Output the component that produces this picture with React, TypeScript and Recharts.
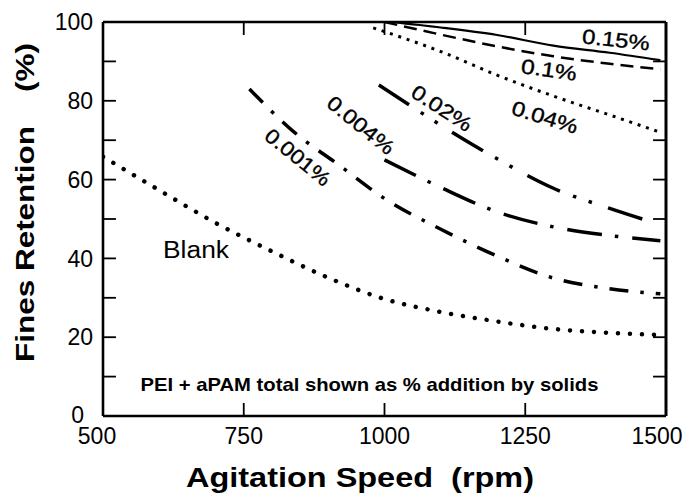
import React from 'react';
import { LineChart, Line, XAxis, YAxis } from 'recharts';

// ---------- data ----------
const rpmTicks = [500, 750, 1000, 1250, 1500];
const rpmInnerTicks = [750, 1000, 1250];
const retentionTicks = [0, 20, 40, 60, 80, 100];
const retentionMarks = [10, 20, 30, 40, 50, 60, 70, 80, 90];

const blankRpm = [500, 600, 700, 800, 900, 1000, 1100, 1200, 1300, 1400, 1480];
const blankVals = [65.8, 57.3, 49, 41.8, 35.1, 29.7, 26.4, 24, 22.1, 21.1, 20.6];

const p001Rpm = [760, 840, 920, 1000, 1100, 1200, 1300, 1400, 1490];
const p001Vals = [83, 72, 63.6, 55.2, 47.4, 40.6, 35, 32.3, 31];

const p004Rpm = [1000, 1100, 1200, 1300, 1400, 1490];
const p004Vals = [65, 58, 51.8, 48, 45.8, 44.5];

const p02Rpm = [990, 1050, 1100, 1200, 1300, 1400, 1480];
const p02Vals = [84, 78.4, 73.8, 65.3, 57.8, 52.7, 49];

const p04Rpm = [980, 1100, 1200, 1300, 1400, 1490];
const p04Vals = [98.5, 92.5, 86.5, 81.2, 76.4, 72];

const p1Rpm = [1000, 1100, 1200, 1300, 1400, 1490];
const p1Vals = [100, 96.8, 93.8, 91.3, 89.4, 88];

const p15Rpm = [1010, 1100, 1200, 1300, 1400, 1490];
const p15Vals = [100, 98.6, 96.7, 94, 92.2, 90.3];

const zip = (xs: number[], ys: number[]) => xs.map((x, i) => ({ x, y: ys[i] }));

// ---------- layout ----------
const W = 689;
const H = 495;
const X_MIN = 500;
const X_MAX = 1500;
const Y_MIN = 0;
const Y_MAX = 100;
// inward tick length (about 13 px) expressed in axis units
const TICK_RPM = 23;
const TICK_PCT = 3.3;
const FONT = 'Liberation Sans, Arial, Helvetica, sans-serif';

const tickSegments = [
  ...retentionMarks.map((v) => [{ x: X_MIN, y: v }, { x: X_MIN + TICK_RPM, y: v }]),
  ...retentionMarks.map((v) => [{ x: X_MAX - TICK_RPM, y: v }, { x: X_MAX, y: v }]),
  ...rpmInnerTicks.map((v) => [{ x: v, y: Y_MIN }, { x: v, y: Y_MIN + TICK_PCT }]),
  ...rpmInnerTicks.map((v) => [{ x: v, y: Y_MAX - TICK_PCT }, { x: v, y: Y_MAX }]),
];

const LeftTick = (props: any) => {
  const { y, payload } = props;
  const v = payload.value;
  const isZero = v === 0;
  return (
    <text
      x={isZero ? 84 : 93}
      y={isZero ? y + 6.5 : y + 8.2}
      textAnchor="end"
      fontSize={23}
      fontFamily={FONT}
      fill="#000"
    >
      {v}
    </text>
  );
};

const BottomTick = (props: any) => {
  const { x, payload } = props;
  const v = payload.value;
  const dx = v === 500 ? -6 : v === 1500 ? -9 : 0;
  return (
    <text
      x={x + dx}
      y={443.5}
      textAnchor="middle"
      fontSize={23}
      fontFamily={FONT}
      fill="#000"
    >
      {v}
    </text>
  );
};

const RotLabel = ({ text, cx, cy, angle, len, fs = 20.5 }: any) => (
  <text
    x={cx}
    y={cy}
    dy={fs * 0.36}
    textAnchor="middle"
    fontSize={fs}
    fontFamily={FONT}
    fill="#000"
    stroke="#000"
    strokeWidth={0.35}
    textLength={len}
    lengthAdjust="spacingAndGlyphs"
    transform={`rotate(${angle} ${cx} ${cy})`}
  >
    {text}
  </text>
);

export default function App() {
  const lineCommon = {
    xAxisId: 'bottom',
    yAxisId: 'left',
    dataKey: 'y',
    type: 'monotone' as const,
    stroke: '#000',
    dot: false,
    activeDot: false,
    isAnimationActive: false,
  };
  return (
    <div style={{ position: 'absolute', left: 0, top: 0, width: W, height: H, background: '#fff' }}>
      <LineChart
        width={W}
        height={H}
        margin={{ top: 12, right: 13, bottom: 49, left: 43 }}
      >
        <XAxis
          xAxisId="bottom"
          dataKey="x"
          type="number"
          domain={[X_MIN, X_MAX]}
          ticks={rpmTicks}
          height={30}
          tickLine={false}
          axisLine={{ stroke: '#000', strokeWidth: 2.6 }}
          tick={BottomTick}
          allowDataOverflow
          interval={0}
        />
        <XAxis
          xAxisId="top"
          orientation="top"
          dataKey="x"
          type="number"
          domain={[X_MIN, X_MAX]}
          ticks={rpmTicks}
          height={10}
          tickLine={false}
          axisLine={{ stroke: '#000', strokeWidth: 2.6 }}
          tick={false}
          allowDataOverflow
        />
        <YAxis
          yAxisId="left"
          type="number"
          domain={[Y_MIN, Y_MAX]}
          ticks={retentionTicks}
          width={60}
          tickLine={false}
          axisLine={{ stroke: '#000', strokeWidth: 2.6 }}
          tick={LeftTick}
          allowDataOverflow
          interval={0}
        />
        <YAxis
          yAxisId="right"
          orientation="right"
          type="number"
          domain={[Y_MIN, Y_MAX]}
          ticks={retentionTicks}
          width={10}
          tickLine={false}
          axisLine={{ stroke: '#000', strokeWidth: 3 }}
          tick={false}
          allowDataOverflow
        />
        {tickSegments.map((seg, i) => (
          <Line
            key={'tick' + i}
            {...lineCommon}
            type="linear"
            data={seg}
            stroke="#000"
            strokeWidth={1.8}
          />
        ))}
        <Line {...lineCommon} data={zip(blankRpm, blankVals)} strokeWidth={4.5} strokeDasharray="0.01 12" strokeLinecap="round" />
        <Line {...lineCommon} data={zip(p001Rpm, p001Vals)} strokeWidth={3.5} strokeDasharray="19 12 3.5 12" />
        <Line {...lineCommon} data={zip(p004Rpm, p004Vals)} strokeWidth={3.5} strokeDasharray="35 13 3.5 14" />
        <Line {...lineCommon} data={zip(p02Rpm, p02Vals)} strokeWidth={3.5} strokeDasharray="36 14 3.5 13 3.5 17" />
        <Line {...lineCommon} data={zip(p04Rpm, p04Vals)} strokeWidth={3} strokeDasharray="3 5.8" />
        <Line {...lineCommon} data={zip(p1Rpm, p1Vals)} strokeWidth={2.5} strokeDasharray="13 7" />
        <Line {...lineCommon} data={zip(p15Rpm, p15Vals)} strokeWidth={2.2} />
      </LineChart>
      <svg
        width={W}
        height={H}
        style={{ position: 'absolute', left: 0, top: 0, pointerEvents: 'none' }}
      >
        <text
          x={34}
          y={362}
          transform="rotate(-90 34 362)"
          fontSize={26.5}
          fontWeight="bold"
          fontFamily={FONT}
          textLength={236}
          lengthAdjust="spacingAndGlyphs"
          fill="#000"
        >
          Fines Retention
        </text>
        <text
          x={34}
          y={92}
          transform="rotate(-90 34 92)"
          fontSize={26.5}
          fontWeight="bold"
          fontFamily={FONT}
          textLength={49}
          lengthAdjust="spacingAndGlyphs"
          fill="#000"
        >
          (%)
        </text>
        <text
          x={186}
          y={486.5}
          fontSize={27}
          fontWeight="bold"
          fontFamily={FONT}
          textLength={348}
          lengthAdjust="spacingAndGlyphs"
          xmlSpace="preserve"
          style={{ whiteSpace: 'pre' }}
          fill="#000"
        >
          {'Agitation Speed  (rpm)'}
        </text>
        <text
          x={163}
          y={258.3}
          fontSize={23}
          fontFamily={FONT}
          textLength={66}
          lengthAdjust="spacingAndGlyphs"
          fill="#000"
        >
          Blank
        </text>
        <text
          x={140.5}
          y={390.7}
          fontSize={18.5}
          fontWeight="bold"
          fontFamily={FONT}
          textLength={458}
          lengthAdjust="spacingAndGlyphs"
          fill="#000"
        >
          PEI + aPAM total shown as % addition by solids
        </text>
        <RotLabel text="0.15%" cx={616} cy={39.5} angle={6} len={68} />
        <RotLabel text="0.1%" cx={549} cy={69.5} angle={8} len={56} />
        <RotLabel text="0.04%" cx={545} cy={117} angle={17} len={68} />
        <RotLabel text="0.02%" cx={442} cy={108} angle={33} len={68} />
        <RotLabel text="0.004%" cx={361} cy={125} angle={39} len={80} />
        <RotLabel text="0.001%" cx={298} cy={157} angle={39} len={78} />
      </svg>
    </div>
  );
}
